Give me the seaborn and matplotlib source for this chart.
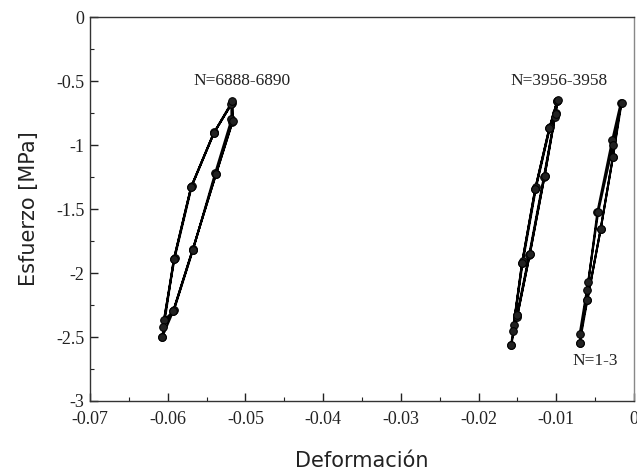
import matplotlib
matplotlib.use("Agg")
import matplotlib.pyplot as plt
from matplotlib.ticker import MultipleLocator
import seaborn as sns
import pandas as pd

# Loop N=6888-6890 (three cycles)
loop1_x = [-0.0607, -0.0592, -0.0570, -0.0541, -0.0517, -0.0517, -0.0538, -0.0568, -0.0593, -0.0605,
           -0.0591, -0.0569, -0.0540, -0.0518, -0.0518, -0.0539, -0.0567, -0.0592, -0.0606,
           -0.0592, -0.0570, -0.0541, -0.0517, -0.0516, -0.0538, -0.0568, -0.0593, -0.0607]
loop1_y = [-2.50, -1.89, -1.33, -0.91, -0.67, -0.82, -1.23, -1.82, -2.30, -2.37,
           -1.88, -1.32, -0.90, -0.68, -0.80, -1.22, -1.81, -2.29, -2.42,
           -1.89, -1.33, -0.91, -0.66, -0.81, -1.23, -1.82, -2.30, -2.50]

# Loop N=3956-3958
loop2_x = [-0.0158, -0.0144, -0.0127, -0.0109, -0.0099, -0.0101, -0.0115, -0.0134, -0.0150, -0.0155,
           -0.0143, -0.0126, -0.0108, -0.0099, -0.0102, -0.0116, -0.0135, -0.0151, -0.0156,
           -0.0144, -0.0127, -0.0109, -0.0098, -0.0101, -0.0115, -0.0134, -0.0150, -0.0158]
loop2_y = [-2.56, -1.92, -1.34, -0.87, -0.66, -0.75, -1.24, -1.85, -2.33, -2.41,
           -1.91, -1.33, -0.86, -0.66, -0.78, -1.25, -1.86, -2.34, -2.45,
           -1.92, -1.34, -0.87, -0.65, -0.76, -1.24, -1.85, -2.33, -2.56]

# Loop N=1-3
loop3_x = [-0.0070, -0.0060, -0.0047, -0.0028, -0.0017, -0.0027, -0.0043, -0.0060, -0.0070,
           -0.0059, -0.0046, -0.0027, -0.0016, -0.0027, -0.0043, -0.0060, -0.0070]
loop3_y = [-2.55, -2.13, -1.52, -0.96, -0.67, -1.09, -1.66, -2.21, -2.48,
           -2.07, -1.52, -1.00, -0.67, -1.09, -1.66, -2.21, -2.55]

labels = ["N=6888-6890", "N=3956-3958", "N=1-3"]
label_x = [-0.0504, -0.0097, -0.0050]
label_y = [-0.50, -0.50, -2.69]

xtick_vals = [-0.07, -0.06, -0.05, -0.04, -0.03, -0.02, -0.01, 0]
xtick_text = ["-0.07", "-0.06", "-0.05", "-0.04", "-0.03", "-0.02", "-0.01", "0"]
ytick_vals = [-3, -2.5, -2, -1.5, -1, -0.5, 0]
ytick_text = ["-3", "-2.5", "-2", "-1.5", "-1", "-0.5", "0"]

frames = []
for name, xs, ys in zip(labels, [loop1_x, loop2_x, loop3_x], [loop1_y, loop2_y, loop3_y]):
    frames.append(pd.DataFrame({"x": xs, "y": ys, "loop": name, "order": range(len(xs))}))
df = pd.concat(frames, ignore_index=True)

sns.set_style("white")
fig = plt.figure(figsize=(6.37, 4.75), dpi=100)
ax = fig.add_axes([90/637, 74/475, 544/637, 384/475])

for name in labels:
    sub = df[df["loop"] == name]
    sns.lineplot(data=sub, x="x", y="y", sort=False, estimator=None, ax=ax,
                 color="black", linewidth=1.5, marker="o", markersize=5.5,
                 markeredgecolor="black", markerfacecolor="#222222")

for t, lx, ly in zip(labels, label_x, label_y):
    ax.text(lx, ly, t, ha="center", va="center", fontsize=12.5,
            family="Liberation Serif", color="#222222")

ax.set_xlim(-0.07, 0)
ax.set_ylim(-3, 0)
ax.set_xticks(xtick_vals)
ax.set_xticklabels(xtick_text)
ax.set_yticks(ytick_vals)
ax.set_yticklabels(ytick_text)
ax.xaxis.set_minor_locator(MultipleLocator(0.005))
ax.yaxis.set_minor_locator(MultipleLocator(0.25))
ax.tick_params(axis="x", which="major", pad=7)
ax.tick_params(axis="y", which="major", pad=4)
ax.tick_params(axis="both", which="major", direction="in", length=6, width=1,
               labelsize=13, top=False, right=False, bottom=True, left=True,
               colors="#222222")
ax.tick_params(axis="both", which="minor", direction="in", length=3, width=0.8,
               top=False, right=False, bottom=True, left=True, colors="#222222")
for lab in ax.get_xticklabels() + ax.get_yticklabels():
    lab.set_family("Liberation Serif")
for side, sp in ax.spines.items():
    sp.set_visible(True)
    sp.set_color("#333333")
    sp.set_linewidth(1.0)
ax.spines["right"].set_color("#888888")

ax.set_xlabel("Deformación", fontsize=15, family="DejaVu Sans", labelpad=17,
              color="#222222")
ax.set_ylabel("Esfuerzo [MPa]", fontsize=15, family="DejaVu Sans", labelpad=12,
              color="#222222")

fig.savefig("out.png", dpi=100)
